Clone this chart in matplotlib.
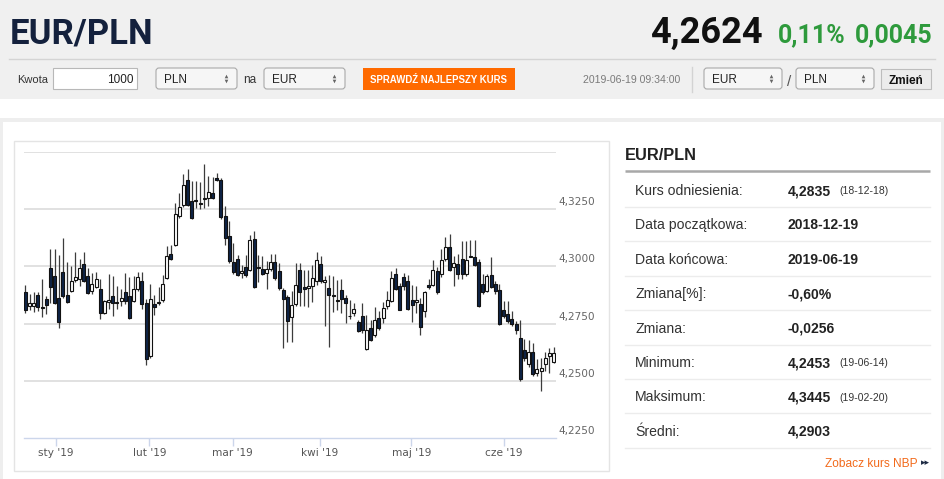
import numpy as np
import pandas as pd
import matplotlib
matplotlib.use("Agg")
import matplotlib.pyplot as plt
from matplotlib.patches import Rectangle, FancyBboxPatch

# ---------------- data ----------------
open_ = [4.2890, 4.2827, 4.2827, 4.2874, 4.2822, 4.2857, 4.2994, 4.2959, 4.2860, 4.2977,
         4.2874, 4.2893, 4.2942, 4.2947, 4.3010, 4.2956, 4.2893, 4.2908, 4.2901, 4.2798,
         4.2845, 4.2871, 4.2845, 4.2848, 4.2886, 4.2871, 4.2849, 4.2901, 4.2937, 4.2839,
         4.2608, 4.2836, 4.2840, 4.2851, 4.2949, 4.3054, 4.3092, 4.3219, 4.3268, 4.3376,
         4.3285, 4.3290, 4.3278, 4.3295, 4.3300, 4.3322, 4.3385, 4.3377, 4.3222, 4.3135,
         4.3018, 4.3032, 4.2971, 4.2997, 4.2985, 4.3121, 4.2997, 4.2990, 4.2969, 4.2987,
         4.3018, 4.2981, 4.2898, 4.2865, 4.2779, 4.2837, 4.2983, 4.2908, 4.2904, 4.2913,
         4.2935, 4.3012, 4.2930, 4.2906, 4.2876, 4.2852, 4.2895, 4.2862, 4.2785, 4.2797,
         4.2756, 4.2782, 4.2637, 4.2731, 4.2698, 4.2775, 4.2775, 4.2826, 4.2847, 4.2968,
         4.2913, 4.2953, 4.2935, 4.2852, 4.2843, 4.2837, 4.2805, 4.2920, 4.2920, 4.2978,
         4.2966, 4.3032, 4.3086, 4.2996, 4.3010, 4.3032, 4.2966, 4.3047, 4.3042, 4.3020,
         4.2923, 4.2893, 4.2963, 4.2925, 4.2896, 4.2808, 4.2791, 4.2769, 4.2750, 4.2689,
         4.2635, 4.2572, 4.2627, 4.2535, 4.2542, 4.2572, 4.2608, 4.2583]
high = [4.2918, 4.2879, 4.2889, 4.2889, 4.2947, 4.2871, 4.3076, 4.3076, 4.3050, 4.3123,
        4.3018, 4.3000, 4.3064, 4.3032, 4.3064, 4.2991, 4.2971, 4.2974, 4.2944, 4.2854,
        4.2966, 4.2959, 4.2915, 4.2901, 4.2971, 4.2952, 4.2959, 4.2977, 4.2977, 4.2857,
        4.2923, 4.2876, 4.2908, 4.2963, 4.3088, 4.3092, 4.3278, 4.3322, 4.3405, 4.3424,
        4.3373, 4.3373, 4.3370, 4.3446, 4.3395, 4.3390, 4.3409, 4.3385, 4.3263, 4.3197,
        4.3102, 4.3051, 4.3007, 4.3051, 4.3139, 4.3156, 4.3051, 4.3044, 4.3022, 4.3054,
        4.3054, 4.3015, 4.2905, 4.2876, 4.2891, 4.3015, 4.3015, 4.2983, 4.2983, 4.3007,
        4.3065, 4.3044, 4.2956, 4.2964, 4.2956, 4.2939, 4.2945, 4.2876, 4.2855, 4.2840,
        4.2767, 4.2840, 4.2789, 4.2767, 4.2823, 4.2804, 4.2843, 4.2891, 4.2978, 4.2993,
        4.2927, 4.2971, 4.2964, 4.2920, 4.2913, 4.2862, 4.2893, 4.2944, 4.3028, 4.2996,
        4.3076, 4.3127, 4.3142, 4.3047, 4.3054, 4.3113, 4.3113, 4.3115, 4.3115, 4.3032,
        4.2966, 4.2966, 4.3039, 4.2937, 4.2923, 4.2849, 4.2849, 4.2803, 4.2762, 4.2765,
        4.2681, 4.2677, 4.2667, 4.2594, 4.2601, 4.2627, 4.2645, 4.2648]
low = [4.2798, 4.2808, 4.2801, 4.2806, 4.2781, 4.2791, 4.2842, 4.2835, 4.2732, 4.2864,
       4.2842, 4.2889, 4.2930, 4.2915, 4.2930, 4.2879, 4.2879, 4.2904, 4.2772, 4.2791,
       4.2813, 4.2784, 4.2813, 4.2827, 4.2835, 4.2772, 4.2845, 4.2893, 4.2813, 4.2567,
       4.2601, 4.2788, 4.2832, 4.2846, 4.2946, 4.3028, 4.3088, 4.3212, 4.3259, 4.3263,
       4.3209, 4.3256, 4.3253, 4.3256, 4.3263, 4.3295, 4.3373, 4.3209, 4.3095, 4.3015,
       4.2966, 4.2956, 4.2949, 4.2952, 4.2978, 4.2905, 4.2934, 4.2961, 4.2902, 4.2978,
       4.2942, 4.2898, 4.2642, 4.2671, 4.2669, 4.2828, 4.2828, 4.2826, 4.2823, 4.2843,
       4.2920, 4.2927, 4.2738, 4.2648, 4.2799, 4.2808, 4.2797, 4.2753, 4.2770, 4.2782,
       4.2712, 4.2709, 4.2634, 4.2673, 4.2692, 4.2724, 4.2753, 4.2814, 4.2843, 4.2895,
       4.2808, 4.2898, 4.2808, 4.2756, 4.2797, 4.2702, 4.2777, 4.2901, 4.2915, 4.2879,
       4.2952, 4.3025, 4.2978, 4.2915, 4.2944, 4.2944, 4.2959, 4.3039, 4.3003, 4.2823,
       4.2879, 4.2886, 4.2905, 4.2879, 4.2744, 4.2773, 4.2754, 4.2740, 4.2703, 4.2501,
       4.2586, 4.2560, 4.2520, 4.2520, 4.2455, 4.2545, 4.2535, 4.2579]
close = [4.2810, 4.2838, 4.2842, 4.2823, 4.2816, 4.2832, 4.2912, 4.2839, 4.2759, 4.2871,
         4.2845, 4.2937, 4.2952, 4.2994, 4.2937, 4.2883, 4.2925, 4.2947, 4.2798, 4.2849,
         4.2854, 4.2839, 4.2839, 4.2860, 4.2849, 4.2776, 4.2901, 4.2952, 4.2835, 4.2594,
         4.2857, 4.2822, 4.2842, 4.2923, 4.3047, 4.3032, 4.3227, 4.3260, 4.3354, 4.3270,
         4.3212, 4.3285, 4.3273, 4.3300, 4.3326, 4.3300, 4.3379, 4.3215, 4.3124, 4.3022,
         4.2975, 4.2963, 4.2981, 4.2961, 4.3117, 4.2908, 4.2991, 4.2966, 4.2988, 4.3018,
         4.2949, 4.2905, 4.2858, 4.2763, 4.2833, 4.2920, 4.2887, 4.2903, 4.2913, 4.2949,
         4.3026, 4.2935, 4.2942, 4.2876, 4.2872, 4.2847, 4.2858, 4.2840, 4.2782, 4.2814,
         4.2717, 4.2724, 4.2721, 4.2680, 4.2767, 4.2731, 4.2818, 4.2855, 4.2949, 4.2901,
         4.2811, 4.2913, 4.2814, 4.2833, 4.2855, 4.2735, 4.2886, 4.2911, 4.2985, 4.2886,
         4.3028, 4.3083, 4.2984, 4.3013, 4.2966, 4.2966, 4.3028, 4.3042, 4.3007, 4.2827,
         4.2886, 4.2959, 4.2911, 4.2893, 4.2747, 4.2784, 4.2762, 4.2747, 4.2721, 4.2510,
         4.2601, 4.2626, 4.2531, 4.2550, 4.2554, 4.2598, 4.2623, 4.2623]

holidays = ["2018-12-25", "2018-12-26", "2019-01-01"]
month_starts = ["2019-01-01", "2019-02-01", "2019-03-01", "2019-04-01", "2019-05-01", "2019-06-01"]
month_labels = ["sty '19", "lut '19", "mar '19", "kwi '19", "maj '19", "cze '19"]
y_grid = [4.225, 4.250, 4.275, 4.300, 4.325, 4.350]
y_labels = ["4,2250", "4,2500", "4,2750", "4,3000", "4,3250", ""]

pair = "EUR/PLN"
last_rate = "4,2624"
change_pct = "0,11%"
change_abs = "0,0045"
timestamp = "2019-06-19 09:34:00"

table_labels = ["Kurs odniesienia:", "Data początkowa:", "Data końcowa:", "Zmiana[%]:",
                "Zmiana:", "Minimum:", "Maksimum:", "Średni:"]
table_values = ["4,2835", "2018-12-19", "2019-06-19", "-0,60%", "-0,0256", "4,2453", "4,3445", "4,2903"]
table_notes = ["(18-12-18)", "", "", "", "", "(19-06-14)", "(19-02-20)", ""]

# ---------------- figure ----------------
W, H = 945, 479
fig = plt.figure(figsize=(W / 100, H / 100), dpi=100)
fig.patch.set_facecolor("white")
bg = fig.add_axes([0, 0, 1, 1])
bg.set_xlim(0, W)
bg.set_ylim(H, 0)
bg.axis("off")

SANS = ["Liberation Sans", "DejaVu Sans"]

# header background
bg.add_patch(Rectangle((0, 0), W, 99, facecolor="#f0f0f0", edgecolor="none"))
bg.plot([9, 935], [58.5, 58.5], color="#d4d4d4", lw=1)
bg.add_patch(Rectangle((0, 118), W, H - 118, facecolor="#eeeeee", edgecolor="none"))
bg.add_patch(Rectangle((3, 122), 938, H - 122, facecolor="white", edgecolor="none"))

bg.text(10, 43, pair, fontsize=25, fontweight="bold", family=["Roboto", "DejaVu Sans"],
        color="#14213d", va="baseline", ha="left")
bg.text(650, 43, last_rate, fontsize=26, fontweight="bold", family=["Roboto", "DejaVu Sans"],
        color="#111111", va="baseline", ha="left")
bg.text(778, 42, change_pct, fontsize=18, fontweight="bold", family=["Roboto", "DejaVu Sans"],
        color="#2e9a3c", va="baseline", ha="left")
bg.text(933, 42, change_abs, fontsize=18, fontweight="bold", family=["Roboto", "DejaVu Sans"],
        color="#2e9a3c", va="baseline", ha="right")


def select_box(x0, x1, label):
    bg.add_patch(FancyBboxPatch((x0 + 3, 68 + 3), x1 - x0 - 6, 21 - 6,
                                boxstyle="round,pad=3", facecolor="#f6f6f6",
                                edgecolor="#a9a9a9", lw=0.8))
    bg.text(x0 + 8, 83, label, fontsize=8.5, family=SANS, color="#222222", va="baseline")
    bg.plot([x1 - 11], [75.8], marker="^", ms=2.6, color="#666666", mec="none")
    bg.plot([x1 - 11], [80.8], marker="v", ms=2.6, color="#666666", mec="none")


bg.text(17, 83, "Kwota", fontsize=8, family=SANS, color="#333333", va="baseline")
bg.add_patch(Rectangle((53, 68), 84, 21, facecolor="white", edgecolor="#b8b8b8", lw=0.8))
bg.text(134, 83, "1000", fontsize=8.5, family=SANS, color="#222222", va="baseline", ha="right")
select_box(156, 237, "PLN")
bg.text(243, 83, "na", fontsize=8.5, family=SANS, color="#333333", va="baseline")
select_box(264, 345, "EUR")
bg.add_patch(Rectangle((363, 68), 152, 22, facecolor="#ff6a00", edgecolor="none"))
bg.text(439, 82.5, "SPRAWDŹ NAJLEPSZY KURS", fontsize=6.9, fontweight="bold",
        family=["Liberation Sans Narrow", "Liberation Sans"], color="white",
        va="baseline", ha="center")
bg.text(583, 83, timestamp, fontsize=7.6, family=SANS, color="#7a7a7a", va="baseline")
bg.plot([691.5, 691.5], [67, 92], color="#d3d3d3", lw=1)
select_box(704, 782, "EUR")
bg.text(789, 86, "/", fontsize=11, family=SANS, color="#555555", va="baseline", ha="center")
select_box(796, 874, "PLN")
bg.add_patch(Rectangle((881, 69), 50, 20, facecolor="#ececec", edgecolor="#bdbdbd", lw=0.8))
bg.text(906, 83.5, "Zmień", fontsize=8.5, fontweight="bold", family=SANS, color="#111111",
        va="baseline", ha="center")

# chart box
bg.add_patch(Rectangle((14, 141), 595, 330, facecolor="none", edgecolor="#e4e4e4", lw=1))

# table
bg.text(625, 160.5, pair, fontsize=11.8, fontweight="bold", family=SANS, color="#222222",
        va="baseline")
bg.plot([625, 930], [171, 171], color="#a8a8a8", lw=1.8, solid_capstyle="butt")
for i, (lab, val, note) in enumerate(zip(table_labels, table_values, table_notes)):
    yc = 190 + i * 34.4
    bg.text(635, yc + 5, lab, fontsize=10.1, family=SANS, color="#333333", va="baseline")
    bg.text(788, yc + 5, val, fontsize=10.1, fontweight="bold", family=SANS, color="#222222",
            va="baseline")
    if note:
        bg.text(839, yc + 4.5, note, fontsize=7.5, family=SANS, color="#333333", va="baseline")
    bg.plot([625, 930], [yc + 17, yc + 17], color="#ececec", lw=1)
bg.text(918, 467, "Zobacz kurs NBP", fontsize=8.6, family=SANS, color="#f26a1b",
        va="baseline", ha="right")
bg.text(921, 463, "▸▸", fontsize=6.5, family=["DejaVu Sans"], color="#1d2a44",
        va="center", ha="left")

# ---------------- candlestick chart ----------------
dates = pd.bdate_range("2018-12-19", "2019-06-19")
dates = dates[~dates.isin(pd.to_datetime(holidays))]
n = min(len(dates), len(open_))
idx = np.arange(n)
o = np.array(open_[:n]); h = np.array(high[:n]); l = np.array(low[:n]); c = np.array(close[:n])

top_px, bot_px, left_px, right_px = 152, 438, 24, 556
ax = fig.add_axes([left_px / W, (H - bot_px) / H, (right_px - left_px) / W, (bot_px - top_px) / H])
ax.patch.set_visible(False)
ax.set_xlim(-0.35, n - 1 + 0.6)
ax.set_ylim(y_grid[0], y_grid[-1])

for g in y_grid[1:]:
    ax.axhline(g, color="#dedede", lw=1.3, zorder=0)
for g, lab in zip(y_grid, y_labels):
    if lab:
        ax.annotate(lab, xy=(1, g), xycoords=("axes fraction", "data"), xytext=(2, 7),
                    textcoords="offset pixels", fontsize=7.6, color="#666666",
                    family=["DejaVu Sans"], va="center", ha="left", annotation_clip=False)

ax.vlines(idx, l, h, color="#3c3c3c", lw=0.9, zorder=2)
up = c >= o
body_bottom = np.minimum(o, c)
body_h = np.maximum(np.abs(c - o), 0.0003)
ax.bar(idx[up], body_h[up], bottom=body_bottom[up], width=0.72, color="white",
       edgecolor="#111111", lw=0.8, zorder=3)
ax.bar(idx[~up], body_h[~up], bottom=body_bottom[~up], width=0.72, color="#0e2446",
       edgecolor="#111111", lw=0.8, zorder=3)

for s in ["top", "right", "left"]:
    ax.spines[s].set_visible(False)
ax.spines["bottom"].set_color("#ccd6eb")
ax.spines["bottom"].set_linewidth(1)
ax.set_yticks([])
# month boundaries placed at the gap after the previous month's last session
tick_pos = np.interp(pd.to_datetime(month_starts).values.astype("int64"),
                     dates[:n].values.astype("int64"), idx) + 0.8
ax.set_xticks(tick_pos)
ax.set_xticklabels(month_labels, fontsize=7.6, color="#555555", family=["DejaVu Sans"])
ax.tick_params(axis="x", length=6, width=1, color="#ccd6eb", pad=1.5)

fig.savefig("out.png", dpi=100, facecolor=fig.get_facecolor())
